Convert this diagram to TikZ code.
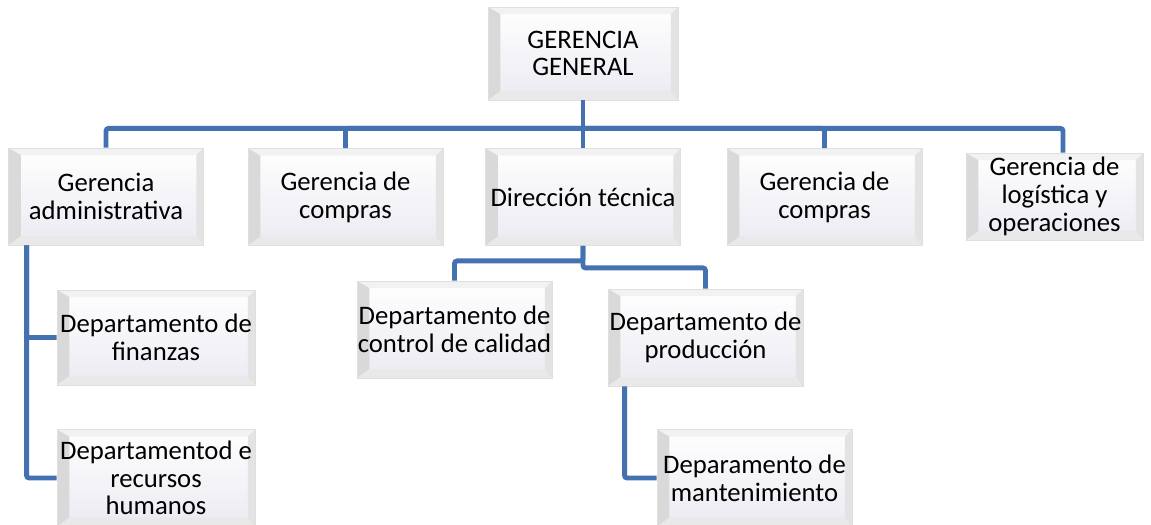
\documentclass[tikz,border=0pt]{standalone}
\usepackage{fontspec}
\newfontfamily\orgfont{Carlito}
\definecolor{linkblue}{RGB}{68,113,176}
\definecolor{facegray}{RGB}{234,234,242}
\tikzset{
  orgbox/.style={draw=gray!25, line width=0.5pt, fill=white,
    minimum width=3.9cm, minimum height=1.94cm, inner sep=0pt, align=center,
    font=\orgfont\fontsize{15.2}{15.8}\selectfont,
    path picture={
      \shade[top color=white, bottom color=facegray] (path picture bounding box.south west) rectangle (path picture bounding box.north east);
      \fill[gray!10] (path picture bounding box.north west) -- (path picture bounding box.north east)
        -- ([shift={(-4pt,-4pt)}]path picture bounding box.north east) -- ([shift={(7pt,-4pt)}]path picture bounding box.north west) -- cycle;
      \fill[gray!30] (path picture bounding box.north west) -- ([shift={(7pt,-4pt)}]path picture bounding box.north west)
        -- ([shift={(7pt,5pt)}]path picture bounding box.south west) -- (path picture bounding box.south west) -- cycle;
      \fill[gray!17] (path picture bounding box.south west) -- ([shift={(7pt,5pt)}]path picture bounding box.south west)
        -- ([shift={(-4pt,5pt)}]path picture bounding box.south east) -- (path picture bounding box.south east) -- cycle;
      \fill[gray!22] (path picture bounding box.north east) -- ([shift={(-4pt,-4pt)}]path picture bounding box.north east)
        -- ([shift={(-4pt,5pt)}]path picture bounding box.south east) -- (path picture bounding box.south east) -- cycle;
    }},
  link/.style={draw=linkblue, line width=2.8pt, rounded corners=1.5pt},
}
\begin{document}
\begin{tikzpicture}[x=0.02cm, y=-0.02cm]
\useasboundingbox (0,0) rectangle (1151,524);
\clip (0,0) rectangle (1151,524);
\node[orgbox, minimum width=3.8cm, minimum height=1.86cm] (gg) at (583, 53.5) {GERENCIA\\GENERAL};
\node[orgbox] (ga) at (106, 196.5) {Gerencia\\administrativa};
\node[orgbox] (gc1) at (345.5, 197) {Gerencia de\\compras};
\node[orgbox] (dt) at (583, 197) {Dirección técnica};
\node[orgbox] (gc2) at (824.5, 197) {Gerencia de\\compras};
\node[orgbox, minimum width=3.54cm, minimum height=1.74cm] (gl) at (1054.5, 196.5) {Gerencia de\\logística y\\operaciones};
\node[orgbox] (cc) at (454.5, 329.5) {Departamento de\\control de calidad};
\node[orgbox] (prod) at (705.5, 337.5) {Departamento de\\producción};
\node[orgbox, minimum width=3.96cm, minimum height=1.9cm] (fin) at (156, 337.5) {Departamento de\\finanzas};
\node[orgbox, minimum width=3.96cm] (rh) at (156, 478) {Departamentod e\\recursos\\humanos};
\node[orgbox] (mant) at (754.5, 478) {Deparamento de\\mantenimiento};
\draw[link] (gg.south) -- ++(0,28) coordinate (bus);
\foreach \n in {ga,gc1,dt,gc2}
  \draw[link] (bus) -| (\n.north);
\draw[link] (bus) -| ([xshift=0.17cm]gl.north);
\draw[link] (dt.south) -- ++(0,15) -| (cc.north);
\draw[link] (dt.south) -- ++(0,22) -| (prod.north);
\draw[link] ([xshift=0.37cm]ga.south west) |- (fin.west);
\draw[link] ([xshift=0.37cm]ga.south west) |- (rh.west);
\draw[link] ([xshift=0.34cm]prod.south west) |- (mant.west);
\end{tikzpicture}
\end{document}
